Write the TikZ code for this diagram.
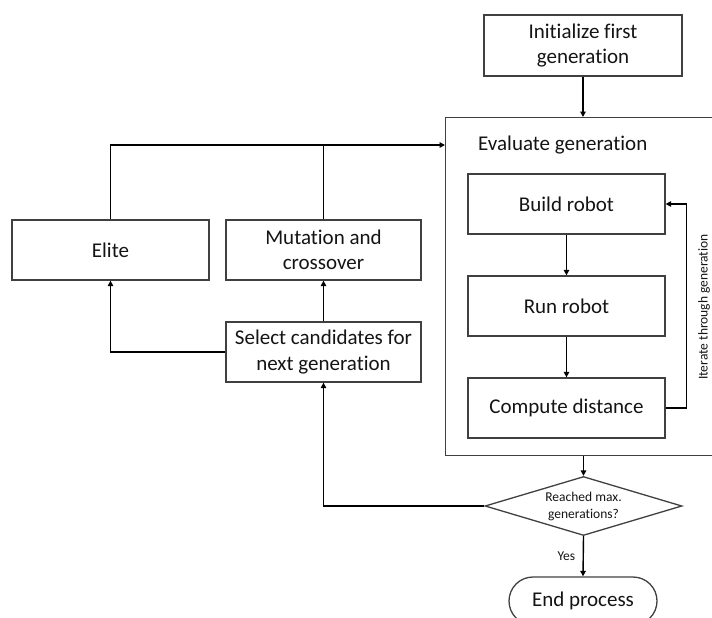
\documentclass[tikz,border=0pt]{standalone}
\usepackage{fontspec}
\setmainfont{Carlito}[Ligatures={NoCommon}]
\usetikzlibrary{shapes.geometric,arrows.meta,calc}
\definecolor{boxc}{RGB}{64,64,64}
\definecolor{txtc}{RGB}{20,20,20}
\begin{document}
\begin{tikzpicture}[x=1pt,y=-1pt,
  big/.style={text=txtc, font=\fontsize{21}{25.5}\selectfont},
  box/.style={draw=boxc, line width=1.3pt, minimum width=197pt, minimum height=60pt,
    inner sep=0pt, align=center, big},
  arr/.style={-{Triangle[length=5.5pt,width=5.5pt]}, line width=1.4pt},
  ln/.style={line width=1.4pt},
  small/.style={text=txtc, font=\fontsize{13.5}{17}\selectfont}]
\useasboundingbox (0,0) rectangle (712,618);
% containers
\node[draw=boxc, line width=1.3pt, minimum width=295pt, minimum height=338pt, inner sep=0pt, anchor=north west] (evalbox) at (445,117) {};
\node[anchor=west, inner sep=0pt, big] (evaltitle) at (478,145) {Evaluate generation};
% boxes
\node[box, minimum width=198pt, minimum height=61pt] (init) at (583,45.5) {Initialize first\\generation};
\node[box] (build) at (566.5,204) {Build robot};
\node[box] (run) at (566.5,306) {Run robot};
\node[box] (comp) at (566.5,408) {Compute distance};
\node[box] (elite) at (110.5,250) {Elite};
\node[box, minimum width=195pt] (mut) at (323.5,250) {Mutation and\\crossover};
\node[box, minimum width=195pt] (sel) at (323.5,352) {Select candidates for\\next generation};
\node[draw=boxc, line width=1.3pt, diamond, aspect=3.3, minimum width=197pt, minimum height=59pt, inner sep=0pt, align=center, small] (dec) at (583.5,506) {Reached max.\\generations?};
\node[draw=boxc, line width=1.3pt, rounded corners=24pt, minimum width=148pt, minimum height=48pt, inner sep=0pt, big] (endp) at (583,601) {End process};
\node[rotate=90, inner sep=0pt, small] (iterlbl) at (704,307) {Iterate through generation};
% coordinates
\coordinate (evalin) at (evalbox.west |- evaltitle.west);
% connectors
\draw[arr] (init.south) -- (init.south |- evalbox.north);
\draw[arr] (elite.north) |- (evalin);
\draw[ln] (mut.north) -- (mut.north |- evalin);
\draw[arr] (sel.north) -- (mut.south);
\draw[arr] (sel.west) -| (elite.south);
\draw[arr] (build.south) -- (run.north);
\draw[arr] (run.south) -- (comp.north);
\draw[arr] (comp.east) -- ++(21,0) |- (build.east);
\draw[arr] (dec.north |- evalbox.south) -- (dec.north);
\draw[arr] (dec.west) -| (sel.south);
\draw[arr] (dec.south) -- node[left, small, xshift=-4pt] (yes) {Yes} (endp.north);
\end{tikzpicture}
\end{document}
